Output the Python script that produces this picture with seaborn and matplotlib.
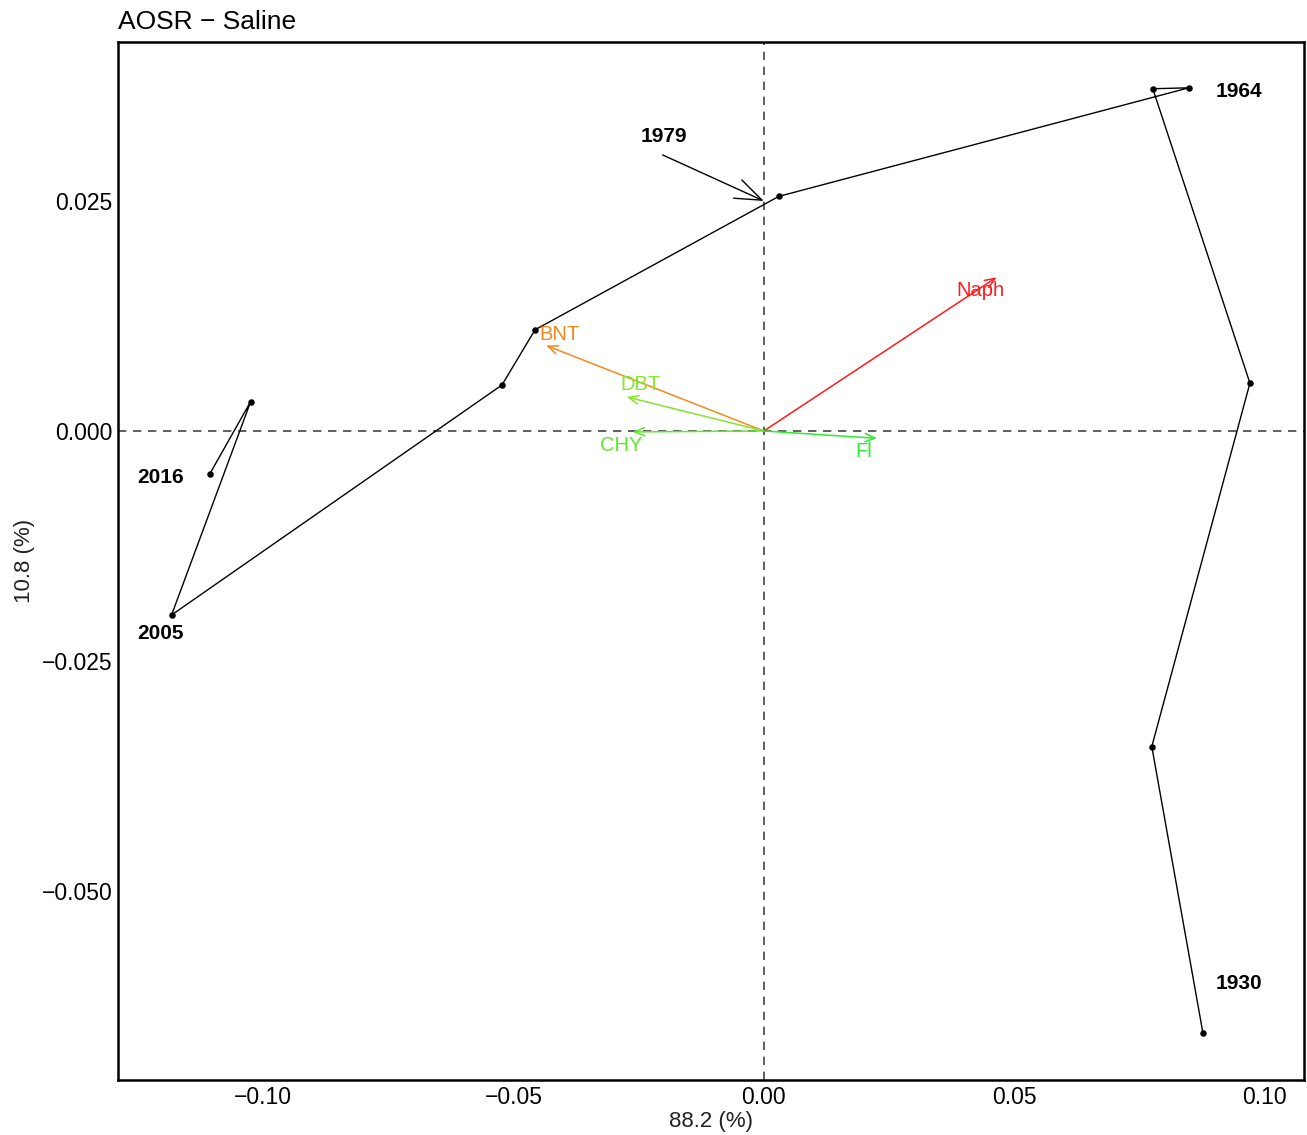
import matplotlib
matplotlib.use("Agg")
import matplotlib.pyplot as plt
import seaborn as sns
import pandas as pd

# Sample scores along the core (oldest -> youngest), axis 1 and axis 2
site_x = [0.0877, 0.0775, 0.0971, 0.0777, 0.0849, 0.0030,
          -0.0457, -0.0523, -0.1183, -0.1025, -0.1107]
site_y = [-0.0654, -0.0343, 0.0052, 0.0372, 0.0373, 0.0255,
          0.0110, 0.0050, -0.0200, 0.0032, -0.0047]

# Year labels and the sample they belong to
year_labels = ["1930", "1964", "1979", "2005", "2016"]
year_label_x = [0.0950, 0.0950, -0.0200, -0.1205, -0.1205]
year_label_y = [-0.0601, 0.0369, 0.0320, -0.0220, -0.0051]

# Compound loadings
species = ["Naph", "BNT", "DBT", "CHY", "Fl"]
species_x = [0.0465, -0.0435, -0.0274, -0.0262, 0.0226]
species_y = [0.0167, 0.0093, 0.0037, -0.0001, -0.0008]
species_colors = ["#FF1A1A", "#F5891E", "#86E62A", "#5CE82A", "#2DEB2D"]
species_label_x = [0.0433, -0.0408, -0.0246, -0.0285, 0.0200]
species_label_y = [0.0153, 0.0105, 0.0051, -0.0016, -0.0022]

sites = pd.DataFrame({"x": site_x, "y": site_y})

sns.set_theme(style="white")
plt.rcParams["font.family"] = ["Liberation Sans", "DejaVu Sans"]

fig = plt.figure(figsize=(13.07, 11.35), dpi=100)
ax = fig.add_axes([0.0903, 0.0485, 0.9074, 0.9145])

ax.axhline(0, color="#444444", lw=1.2, ls=(0, (5, 4)), zorder=1)
ax.axvline(0, color="#444444", lw=1.2, ls=(0, (5, 4)), zorder=1)

sns.lineplot(data=sites, x="x", y="y", sort=False, estimator=None,
             color="black", lw=1.0, ax=ax, zorder=3)
sns.scatterplot(data=sites, x="x", y="y", color="black", s=22,
                edgecolor="black", linewidth=0, ax=ax, zorder=4)

for lab, lx, ly in zip(year_labels, year_label_x, year_label_y):
    ax.text(lx, ly, lab, fontsize=15, fontweight="bold", color="black",
            ha="center", va="center", zorder=5)

# Pointer from the 1979 label to its sample
ax.annotate("", xy=(0.0, 0.0250), xytext=(-0.0202, 0.0300),
            arrowprops=dict(arrowstyle="->,head_length=1.6,head_width=0.6",
                            color="black", lw=1.0, shrinkA=0, shrinkB=0),
            zorder=5)

for name, vx, vy, col, tx, ty in zip(species, species_x, species_y,
                                     species_colors, species_label_x,
                                     species_label_y):
    ax.annotate("", xy=(vx, vy), xytext=(0, 0),
                arrowprops=dict(arrowstyle="->,head_length=0.6,head_width=0.25",
                                color=col, lw=1.1, shrinkA=0, shrinkB=0),
                zorder=2)
    ax.text(tx, ty, name, color=col, fontsize=14.5, ha="center",
            va="center", zorder=5)

ax.set_xlim(-0.1290, 0.1079)
ax.set_ylim(-0.07054, 0.04228)
ax.set_xticks([-0.10, -0.05, 0.00, 0.05, 0.10])
ax.set_xticklabels(["\u22120.10", "\u22120.05", "0.00", "0.05", "0.10"])
ax.set_yticks([-0.050, -0.025, 0.000, 0.025])
ax.set_yticklabels(["\u22120.050", "\u22120.025", "0.000", "0.025"])
ax.tick_params(axis="both", labelsize=16.5, length=0, pad=4, colors="black")

ax.set_xlabel("88.2 (%)", fontsize=16, labelpad=2, color="#222222")
ax.set_ylabel("10.8 (%)", fontsize=16, labelpad=5, color="#222222")
ax.set_title("AOSR \u2212 Saline", loc="left", fontsize=19, pad=9,
             color="black")

for sp in ax.spines.values():
    sp.set_visible(True)
    sp.set_color("black")
    sp.set_linewidth(1.8)

fig.savefig("out.png", dpi=100)
